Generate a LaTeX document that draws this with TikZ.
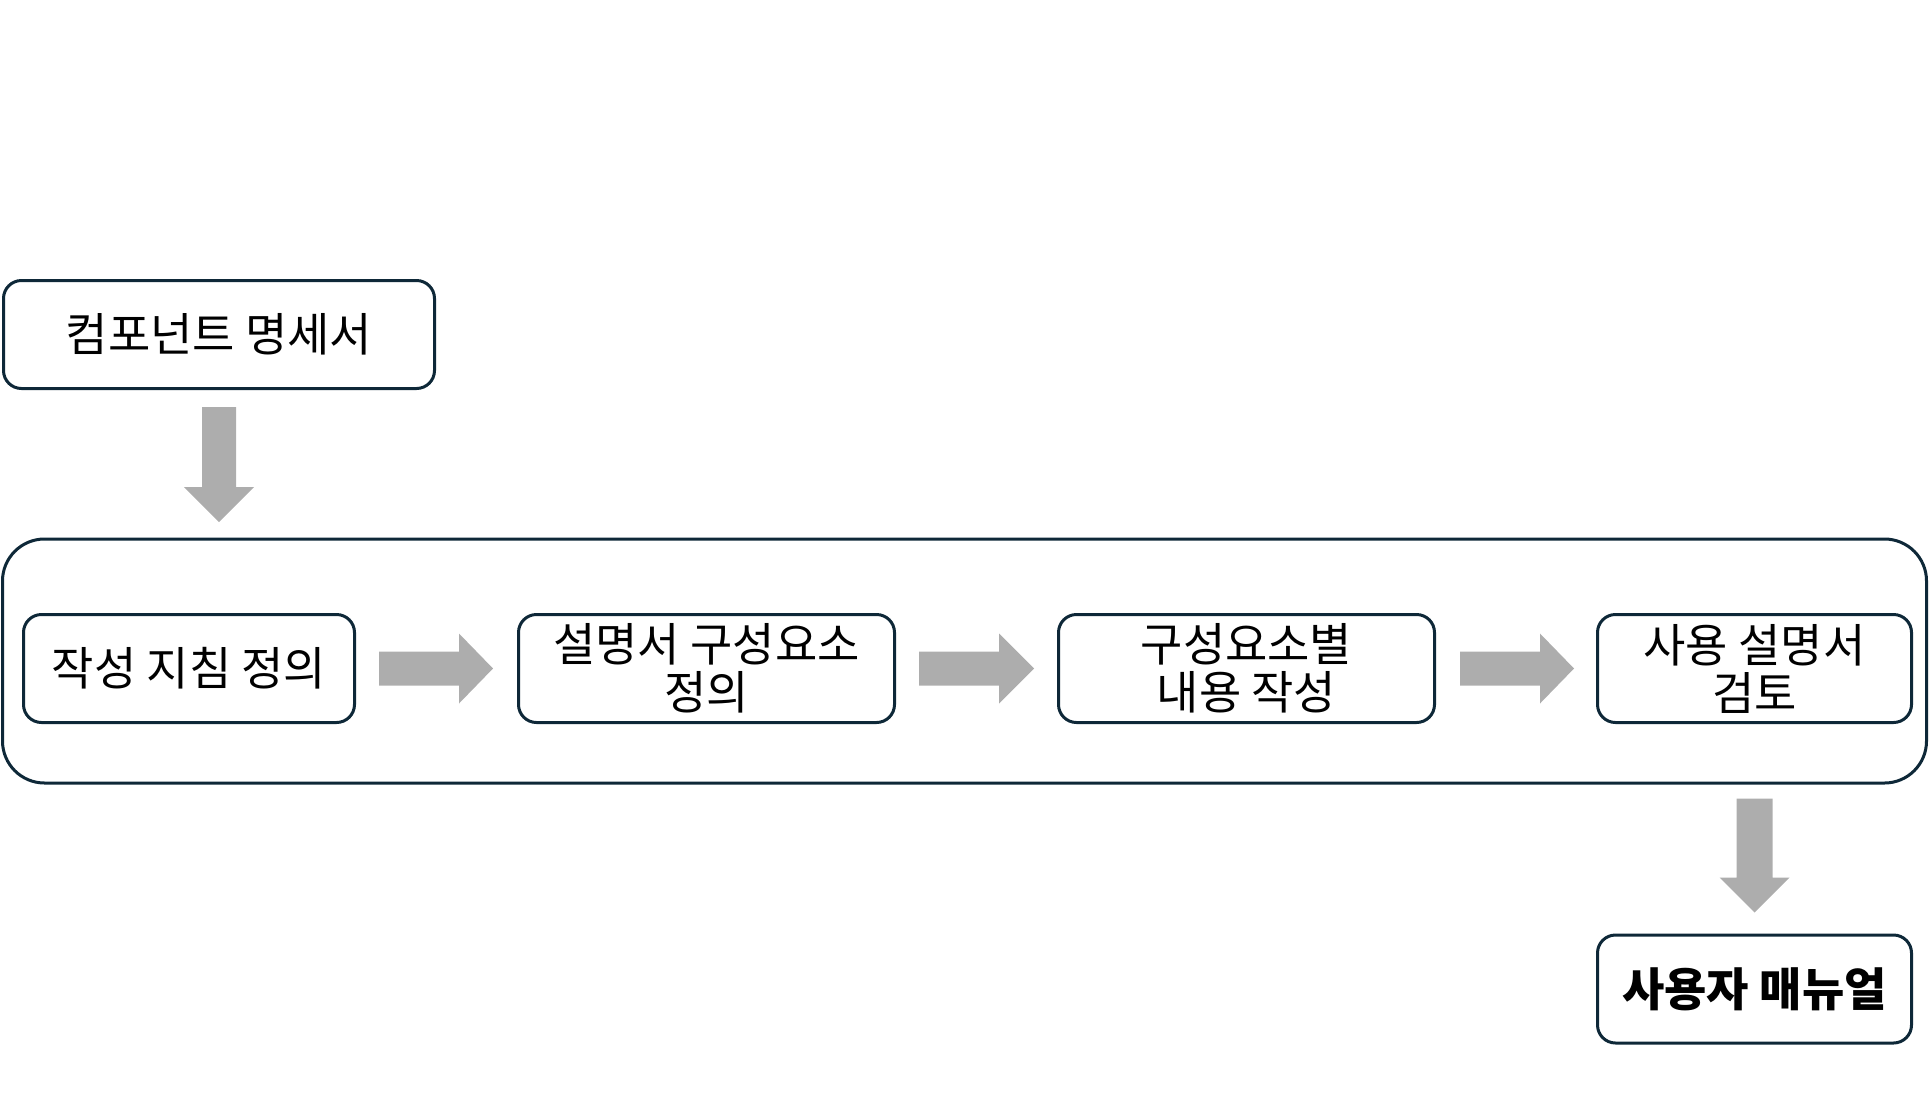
\documentclass[tikz,border=0pt]{standalone}
\usepackage{fontspec}
\setmainfont{Noto Sans CJK KR}
\usetikzlibrary{calc}
\definecolor{boxline}{RGB}{14,40,56}
\definecolor{arrowgray}{RGB}{173,173,173}

\begin{document}
\begin{tikzpicture}[x=1pt, y=-1pt,
  box/.style={draw=boxline, line width=3pt, rounded corners=18pt, align=center,
    inner sep=0pt, minimum height=108pt, font=\fontsize{46}{48}\selectfont},
  frame/.style={draw=boxline, line width=3pt, rounded corners=42pt, inner sep=0pt}]
  \useasboundingbox (0,0) rectangle (1930,1112);

  \node[frame, minimum width=1924pt, minimum height=244pt] (flow) at (964.5, 661) {};

  \node[box, minimum width=431pt, font=\fontsize{46}{48}\selectfont] (spec) at (219, 334.5) {컴포넌트 명세서};
  \node[box, minimum width=331pt] (guide) at (189, 668.5) {작성 지침 정의};
  \node[box, minimum width=376pt] (parts) at (706.5, 668.5) {설명서 구성요소\\정의};
  \node[box, minimum width=376pt] (write) at (1246.5, 668.5) {구성요소별\\내용 작성};
  \node[box, minimum width=314pt] (review) at (1754.5, 668.5) {사용 설명서\\검토};
  \node[box, minimum width=314pt, font=\fontsize{46}{48}\selectfont\bfseries] (manual) at (1754.5, 989) {사용자 매뉴얼};

  % block arrows
  \fill[arrowgray] ($(spec.south)+(-17,17)$) -- ($(spec.south)+(-17,97)$) -- ($(spec.south)+(-35,97)$)
    -- ($(spec.south)+(0,132)$) -- ($(spec.south)+(35,97)$) -- ($(spec.south)+(17,97)$)
    -- ($(spec.south)+(17,17)$) -- cycle;
  \fill[arrowgray] ($(guide.east)+(23,-17)$) -- ($(guide.east)+(103,-17)$) -- ($(guide.east)+(103,-35)$)
    -- ($(parts.west)+(-24,0)$) -- ($(guide.east)+(103,35)$) -- ($(guide.east)+(103,17)$)
    -- ($(guide.east)+(23,17)$) -- cycle;
  \fill[arrowgray] ($(parts.east)+(23,-17)$) -- ($(parts.east)+(103,-17)$) -- ($(parts.east)+(103,-35)$)
    -- ($(write.west)+(-23,0)$) -- ($(parts.east)+(103,35)$) -- ($(parts.east)+(103,17)$)
    -- ($(parts.east)+(23,17)$) -- cycle;
  \fill[arrowgray] ($(write.east)+(24,-17)$) -- ($(write.east)+(104,-17)$) -- ($(write.east)+(104,-35)$)
    -- ($(review.west)+(-22,0)$) -- ($(write.east)+(104,35)$) -- ($(write.east)+(104,17)$)
    -- ($(write.east)+(24,17)$) -- cycle;
  \coordinate (out) at (review.south |- flow.south);
  \fill[arrowgray] ($(out)+(-18,14)$) -- ($(out)+(-18,93)$) -- ($(out)+(-35,93)$)
    -- ($(manual.north)+(0,-21)$) -- ($(out)+(35,93)$) -- ($(out)+(18,93)$)
    -- ($(out)+(18,14)$) -- cycle;
\end{tikzpicture}
\end{document}
